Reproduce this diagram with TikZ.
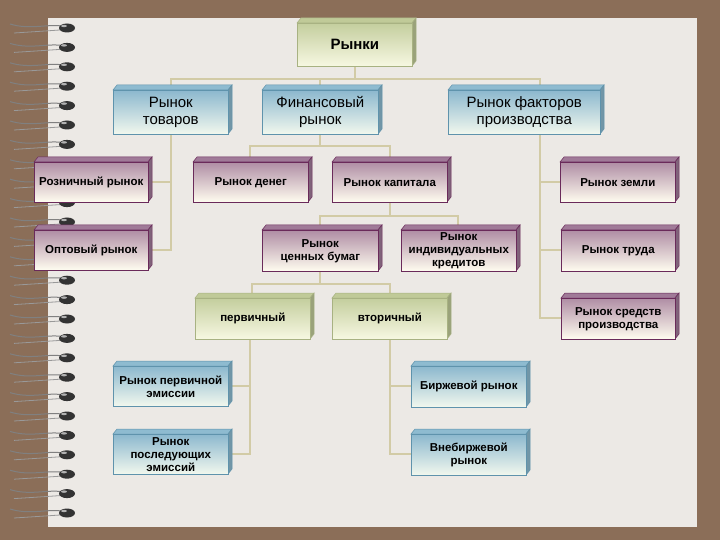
\documentclass[tikz,border=0pt]{standalone}
\usepackage{fontspec}
\setmainfont{Liberation Sans}
\begin{document}
\begin{tikzpicture}[x=1pt,y=-1pt,
  link/.style={draw=linec,line width=2.2pt},
  bx/.style={anchor=north west,inner sep=0pt,align=center,font=\fontsize{11.5}{13}\selectfont\bfseries},
  big/.style={font=\fontsize{15}{17}\selectfont}]
\definecolor{bgc}{HTML}{8B6E58}
\definecolor{panel}{HTML}{ECE9E5}
\definecolor{linec}{HTML}{D2CBA6}
\definecolor{ptop}{HTML}{B08EA5}\definecolor{pbot}{HTML}{FFFDF0}\definecolor{pbor}{HTML}{6A2A5A}\definecolor{pside}{HTML}{A07A98}
\definecolor{btop}{HTML}{8CB8CE}\definecolor{bbot}{HTML}{F2F8EE}\definecolor{bbor}{HTML}{5F93AC}\definecolor{bside}{HTML}{8EBBD0}
\definecolor{gtop}{HTML}{C4CE9E}\definecolor{gbot}{HTML}{F7F8E2}\definecolor{gbor}{HTML}{A8B282}\definecolor{gside}{HTML}{C0CA98}
\useasboundingbox (0,0) rectangle (720,540);
\fill[bgc] (0,0) rectangle (720,540);
\fill[panel] (48,18) rectangle (697,527);
% spiral binding
\foreach \k in {0,...,25}{
  \pgfmathsetmacro{\yy}{28+19.4*\k}
  \draw[black!50,line width=1pt] (10,\yy-4) .. controls (30,\yy+2) and (45,\yy-4) .. (62,\yy-2);
  \draw[black!40,line width=0.8pt] (14,\yy+5) .. controls (30,\yy+4) and (45,\yy+3) .. (60,\yy+2);
  \fill[black!80] (67,\yy) ellipse (8 and 4.5);
  \fill[white!70!black] (64,\yy-2) ellipse (3 and 1.2);
}
\newcommand{\mybox}[8]{% name,x1,y1,x2,y2,scheme,text,font
  \pgfmathsetmacro{\ww}{#4-#2}\pgfmathsetmacro{\hh}{#5-#3}
  \fill[#6side,draw=#6bor,line width=0.5pt] (#2,#3) -- ++(4,-5) -- (#4+4,#3-5) -- (#4,#3) -- cycle;
  \fill[#6side!80!black,draw=#6bor,line width=0.5pt] (#4,#3) -- (#4+4,#3-5) -- (#4+4,#5-5) -- (#4,#5) -- cycle;
  \node[bx,#8,minimum width=\ww pt,minimum height=\hh pt,top color=#6top,bottom color=#6bot,draw=#6bor,line width=0.6pt] (#1) at (#2,#3) {#7};
}
% connectors
\coordinate (j1) at (355,79);
\draw[link] (355,66) -- (j1);
\draw[link] (171,90) -- (171,79) -- (540,79) -- (540,90);
\draw[link] (320,79) -- (320,90);
\draw[link] (171,134) -- (171,250) -- (148,250);
\draw[link] (171,182) -- (148,182);
\draw[link] (320,134) -- (320,146);
\draw[link] (250,162) -- (250,146) -- (390,146) -- (390,162);
\draw[link] (390,202) -- (390,216);
\draw[link] (320,230) -- (320,216) -- (458,216) -- (458,230);
\draw[link] (320,271) -- (320,284);
\draw[link] (252,298) -- (252,284) -- (390,284) -- (390,298);
\draw[link] (540,134) -- (540,318) -- (561,318);
\draw[link] (540,182) -- (561,182);
\draw[link] (540,250) -- (561,250);
\draw[link] (250,339) -- (250,454) -- (228,454);
\draw[link] (250,386) -- (228,386);
\draw[link] (390,339) -- (390,454) -- (411,454);
\draw[link] (390,386) -- (411,386);
% boxes
\mybox{r}{297}{23}{412}{66}{g}{Рынки}{font=\fontsize{15}{17}\selectfont\bfseries}
\mybox{t}{113}{90}{228}{134}{b}{Рынок\\товаров}{big}
\mybox{f}{262}{90}{378}{134}{b}{Финансовый\\рынок}{big}
\mybox{fp}{448}{90}{600}{134}{b}{Рынок факторов\\производства}{big}
\mybox{roz}{34}{162}{148}{202}{p}{Розничный рынок}{}
\mybox{den}{193}{162}{308}{202}{p}{Рынок денег}{}
\mybox{kap}{332}{162}{447}{202}{p}{Рынок капитала}{}
\mybox{zem}{560}{162}{675}{202}{p}{Рынок земли}{}
\mybox{opt}{34}{230}{148}{270}{p}{Оптовый рынок}{}
\mybox{cb}{262}{230}{378}{271}{p}{Рынок\\ценных бумаг}{}
\mybox{ik}{401}{230}{516}{271}{p}{Рынок\\индивидуальных\\кредитов}{}
\mybox{tr}{561}{230}{675}{271}{p}{Рынок труда}{}
\mybox{per}{195}{298}{310}{339}{g}{первичный}{}
\mybox{vt}{332}{298}{447}{339}{g}{вторичный}{}
\mybox{sp}{561}{298}{675}{339}{p}{Рынок средств\\производства}{}
\mybox{pe}{113}{366}{228}{406}{b}{Рынок первичной\\эмиссии}{}
\mybox{bir}{411}{366}{526}{407}{b}{Биржевой рынок}{}
\mybox{pos}{113}{434}{228}{474}{b}{Рынок\\последующих\\эмиссий}{}
\mybox{vne}{411}{434}{526}{475}{b}{Внебиржевой\\рынок}{}
\end{tikzpicture}
\end{document}
